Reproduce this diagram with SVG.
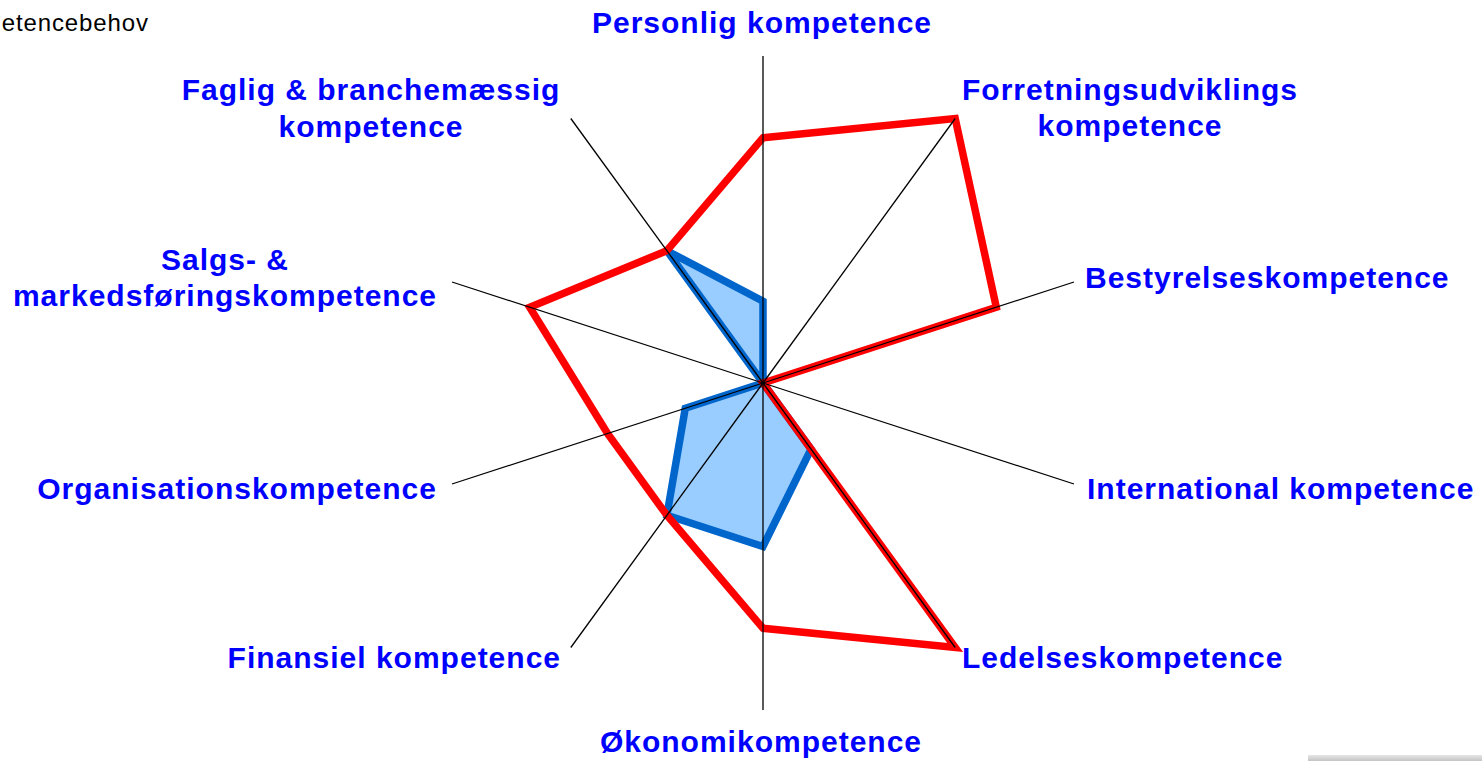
<svg xmlns="http://www.w3.org/2000/svg" width="1484" height="761" viewBox="0 0 1484 761">
  <defs>
    <style>
      .lbl { font-family: "Liberation Sans", Arial, sans-serif; font-weight: bold; font-size: 30px; fill: #0000FF; letter-spacing: 1px; }
      .title { font-family: "Liberation Sans", Arial, sans-serif; font-size: 24px; fill: #000000; letter-spacing: 0.9px; }
      .axis { stroke: #000000; stroke-width: 1.3; fill: none; }
      .red { fill: none; stroke: #FF0000; stroke-width: 7.5; stroke-linejoin: miter; stroke-miterlimit: 10; }
      .blue { fill: #99CCFF; stroke: #0066CC; stroke-width: 7.5; stroke-linejoin: miter; stroke-miterlimit: 2.2; }
    </style>
    <linearGradient id="bar" x1="0" y1="0" x2="0" y2="1">
      <stop offset="0" stop-color="#e6e6e6"/>
      <stop offset="1" stop-color="#c4c4c4"/>
    </linearGradient>
  </defs>
  <rect x="0" y="0" width="1484" height="761" fill="#ffffff"/>

  <text class="title" x="149" y="31" text-anchor="end">etencebehov</text>

  <g id="series-blue">
    <polygon class="blue" points="763,301.25 763,383 811.05,449.1 763,546.5 666.9,515.3 685.25,408.3 763,383 666.9,250.7"/>
  </g>
  <g id="series-red">
    <polygon class="red" points="763,137.75 955.2,118.5 996.3,307.2 763,383 955.2,647.5 763,628.25 666.9,515.3 607.5,433.5 529.7,307.2 666.9,250.7"/>
  </g>

  <g id="connectors">
    <line class="axis" x1="763" y1="383" x2="763" y2="56"/>
    <line class="axis" x1="763" y1="383" x2="955.2" y2="118.5"/>
    <line class="axis" x1="763" y1="383" x2="1074" y2="282"/>
    <line class="axis" x1="763" y1="383" x2="1074" y2="484"/>
    <line class="axis" x1="763" y1="383" x2="955.2" y2="647.5"/>
    <line class="axis" x1="763" y1="383" x2="763" y2="710"/>
    <line class="axis" x1="763" y1="383" x2="570.8" y2="647.5"/>
    <line class="axis" x1="763" y1="383" x2="452" y2="484"/>
    <line class="axis" x1="763" y1="383" x2="452" y2="282"/>
    <line class="axis" x1="763" y1="383" x2="570.8" y2="118.5"/>
  </g>

  <g id="node-personlig">
    <text class="lbl" x="762" y="33" text-anchor="middle">Personlig kompetence</text>
  </g>
  <g id="node-forretning">
    <text class="lbl" x="1130" y="100" text-anchor="middle">Forretningsudviklings</text>
    <text class="lbl" x="1130" y="136" text-anchor="middle">kompetence</text>
  </g>
  <g id="node-bestyrelse">
    <text class="lbl" x="1085" y="288">Bestyrelseskompetence</text>
  </g>
  <g id="node-international">
    <text class="lbl" x="1087" y="499">International kompetence</text>
  </g>
  <g id="node-ledelse">
    <text class="lbl" x="962" y="668">Ledelseskompetence</text>
  </g>
  <g id="node-oekonomi">
    <text class="lbl" x="761" y="752" text-anchor="middle">Økonomikompetence</text>
  </g>
  <g id="node-finansiel">
    <text class="lbl" x="561" y="668" text-anchor="end">Finansiel kompetence</text>
  </g>
  <g id="node-organisation">
    <text class="lbl" x="437" y="499" text-anchor="end">Organisationskompetence</text>
  </g>
  <g id="node-salgs">
    <text class="lbl" x="225" y="270" text-anchor="middle">Salgs- &amp;</text>
    <text class="lbl" x="225" y="306" text-anchor="middle">markedsføringskompetence</text>
  </g>
  <g id="node-faglig">
    <text class="lbl" x="371" y="100" text-anchor="middle">Faglig &amp; branchemæssig</text>
    <text class="lbl" x="371" y="137" text-anchor="middle">kompetence</text>
  </g>

  <rect x="1308" y="755" width="174" height="6" fill="url(#bar)"/>
</svg>
